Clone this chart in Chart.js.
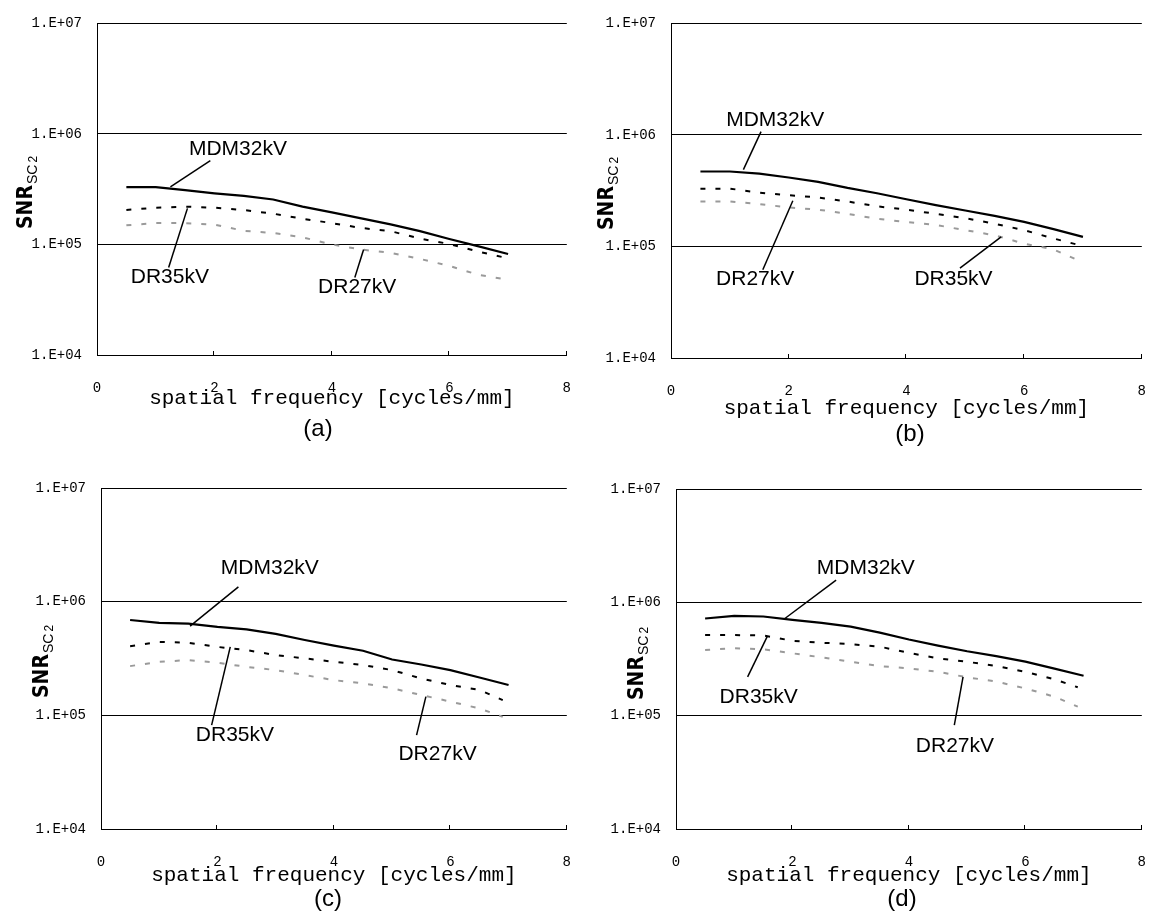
<!DOCTYPE html>
<html>
<head>
<meta charset="utf-8">
<script src="https://cdn.jsdelivr.net/npm/chart.js@4.4.1/dist/chart.umd.min.js"></script>
<style>
html,body{margin:0;padding:0;background:#fff;width:1155px;height:911px;overflow:hidden;}
canvas{position:absolute;}
</style>
</head>
<body>
<script>
// ---------- shared axis data ----------
const freq   = [0.5,1,1.5,2,2.5,3,3.5,4,4.5,5,5.5,6,6.5,7];
const freqDR = [0.5,1,1.5,2,2.5,3,3.5,4,4.5,5,5.5,6,6.5,6.9];
const xTickValues = [0,2,4,6,8];
const xTickLabels = ['0','2','4','6','8'];
const yTickValues = [1e4,1e5,1e6,1e7];
const yTickLabels = ['1.E+04','1.E+05','1.E+06','1.E+07'];
const xTitle = 'spatial frequency [cycles/mm]';
const panelLetters = ['(a)','(b)','(c)','(d)'];
const annTexts = ['MDM32kV','DR35kV','DR27kV'];

// ---------- panel (a) ----------
const mdmA  = [3.3e5,3.3e5,3.1e5,2.9e5,2.75e5,2.55e5,2.2e5,1.95e5,1.72e5,1.52e5,1.32e5,1.12e5,9.6e4,8.2e4];
const dr35A = [2.05e5,2.15e5,2.2e5,2.15e5,2.05e5,1.9e5,1.71e5,1.56e5,1.41e5,1.32e5,1.13e5,1.01e5,8.6e4,7.7e4];
const dr27A = [1.49e5,1.56e5,1.56e5,1.51e5,1.33e5,1.27e5,1.16e5,1.0e5,9.0e4,8.4e4,7.4e4,6.4e4,5.3e4,4.9e4];
const labelPosA  = [[2.40,7.3e5],[1.24,5.03e4],[4.43,4.09e4]];
const leaderFromA = [[1.93,5.74e5],[1.22,6.18e4],[4.39,5.03e4]];
const leaderToA   = [[1.25,3.32e5],[1.54,2.12e5],[4.54,9.0e4]];

// ---------- panel (b) ----------
const mdmB  = [4.7e5,4.7e5,4.5e5,4.15e5,3.8e5,3.35e5,3.0e5,2.65e5,2.35e5,2.1e5,1.88e5,1.66e5,1.43e5,1.22e5];
const dr27B = [3.3e5,3.3e5,3.04e5,2.88e5,2.75e5,2.53e5,2.29e5,2.14e5,1.96e5,1.79e5,1.6e5,1.4e5,1.18e5,1.04e5];
const dr35B = [2.53e5,2.53e5,2.4e5,2.24e5,2.14e5,1.96e5,1.77e5,1.66e5,1.56e5,1.4e5,1.26e5,1.06e5,9.4e4,7.6e4];
const labelPosB  = [[1.77,1.35e6],[4.8,5.05e4],[1.43,5.05e4]];
const leaderFromB = [[1.53,1.07e6],[4.91,6.4e4],[1.56,6.19e4]];
const leaderToB   = [[1.23,4.89e5],[5.61,1.22e5],[2.07,2.57e5]];

// ---------- panel (c) ----------
const mdmC  = [6.9e5,6.5e5,6.4e5,6.0e5,5.7e5,5.2e5,4.6e5,4.1e5,3.7e5,3.1e5,2.8e5,2.5e5,2.15e5,1.85e5];
const dr35C = [4.06e5,4.43e5,4.35e5,4.0e5,3.75e5,3.39e5,3.17e5,2.96e5,2.77e5,2.5e5,2.11e5,1.85e5,1.67e5,1.36e5];
const dr27C = [2.71e5,2.96e5,3.06e5,2.9e5,2.67e5,2.5e5,2.26e5,2.04e5,1.91e5,1.73e5,1.51e5,1.32e5,1.15e5,9.7e4];
const labelPosC  = [[2.90,1.96e6],[2.3,6.7e4],[5.78,4.57e4]];
const leaderFromC = [[2.36,1.35e6],[1.9,8.2e4],[5.42,6.7e4]];
const leaderToC   = [[1.53,6.09e5],[2.22,4.0e5],[5.58,1.46e5]];

// ---------- panel (d) ----------
const mdmD  = [7.2e5,7.6e5,7.5e5,7.0e5,6.6e5,6.1e5,5.4e5,4.7e5,4.15e5,3.7e5,3.35e5,3.0e5,2.6e5,2.25e5];
const dr35D = [5.14e5,5.14e5,5.1e5,4.58e5,4.4e5,4.28e5,4.06e5,3.59e5,3.2e5,2.99e5,2.74e5,2.44e5,2.09e5,1.78e5];
const dr27D = [3.8e5,3.93e5,3.85e5,3.55e5,3.27e5,2.99e5,2.74e5,2.61e5,2.44e5,2.18e5,2.0e5,1.74e5,1.47e5,1.2e5];
const labelPosD  = [[3.26,2.0e6],[1.42,1.47e5],[4.79,5.4e4]];
const leaderFromD = [[2.75,1.57e6],[1.23,2.2e5],[4.78,8.26e4]];
const leaderToD   = [[1.87,7.2e5],[1.57,5.04e5],[4.93,2.2e5]];

// ---------- layout / style (not data) ----------
const MONO = '"Liberation Mono","DejaVu Sans Mono",monospace';
const SANS = '"Liberation Sans",Arial,sans-serif';
const NARROW = '"Liberation Sans Narrow","DejaVu Sans Condensed","Liberation Sans",sans-serif';
const TITLE_LH = 25.2;

const layouts = [
  {left:0,   top:0,   w:588, h:445, plot:{l:97, t:19, r:578, b:355}, hX:60, xTitleY:398, letter:{x:318,y:429}, yTitle:{x:32, y:229}},
  {left:588, top:0,   w:575, h:450, plot:{l:671,t:18, r:1153,b:358}, hX:65, xTitleY:408, letter:{x:910,y:434}, yTitle:{x:613,y:230}},
  {left:0,   top:450, w:588, h:461, plot:{l:101,t:488,r:572, b:829}, hX:60, xTitleY:875, letter:{x:328,y:899}, yTitle:{x:48, y:698}},
  {left:588, top:450, w:575, h:461, plot:{l:676,t:489,r:1150,b:829}, hX:60, xTitleY:875, letter:{x:902,y:899}, yTitle:{x:643,y:700}}
];

// series per panel: [solid black, dashed black, dashed grey]
const panels = [
  {solid:['MDM32kV',mdmA], black:['DR35kV',dr35A], grey:['DR27kV',dr27A], pos:labelPosA, from:leaderFromA, to:leaderToA},
  {solid:['MDM32kV',mdmB], black:['DR27kV',dr27B], grey:['DR35kV',dr35B], pos:labelPosB, from:leaderFromB, to:leaderToB},
  {solid:['MDM32kV',mdmC], black:['DR35kV',dr35C], grey:['DR27kV',dr27C], pos:labelPosC, from:leaderFromC, to:leaderToC},
  {solid:['MDM32kV',mdmD], black:['DR35kV',dr35D], grey:['DR27kV',dr27D], pos:labelPosD, from:leaderFromD, to:leaderToD}
];

function pts(xs, ys){ return ys.map((v,k)=>({x:xs[k], y:v})); }

function build(idx){
  const L = layouts[idx], P = panels[idx];
  const cv = document.createElement('canvas');
  cv.width = L.w; cv.height = L.h;
  cv.style.left = L.left+'px'; cv.style.top = L.top+'px';
  cv.style.width = L.w+'px'; cv.style.height = L.h+'px';
  document.body.appendChild(cv);

  const yW = L.plot.l - L.left;
  const padTop = L.plot.t - L.top;
  const padRight = L.left + L.w - L.plot.r;
  const padBottom = L.h - (L.plot.b - L.top) - L.hX;
  const titlePB = (L.plot.b - L.top + L.hX) - TITLE_LH/2 - (L.xTitleY - L.top);

  const overlay = {
    id:'overlay'+idx,
    afterDatasetsDraw(chart){
      const ctx = chart.ctx, xs = chart.scales.x, ys = chart.scales.y;
      ctx.save();
      ctx.strokeStyle = '#000'; ctx.lineWidth = 1.5;
      for (let k=0;k<P.from.length;k++){
        ctx.beginPath();
        ctx.moveTo(xs.getPixelForValue(P.from[k][0]), ys.getPixelForValue(P.from[k][1]));
        ctx.lineTo(xs.getPixelForValue(P.to[k][0]), ys.getPixelForValue(P.to[k][1]));
        ctx.stroke();
      }
      ctx.fillStyle = '#000';
      ctx.font = '21px '+SANS;
      ctx.textAlign = 'center'; ctx.textBaseline = 'middle';
      for (let k=0;k<P.pos.length;k++){
        ctx.fillText(annTexts[k], xs.getPixelForValue(P.pos[k][0]), ys.getPixelForValue(P.pos[k][1]));
      }
      // inner tick marks on the x axis
      const bottom = chart.chartArea.bottom;
      ctx.lineWidth = 1;
      xTickValues.slice(1).forEach(v=>{
        const px = Math.round(xs.getPixelForValue(v)) - 0.5;
        ctx.beginPath(); ctx.moveTo(px, bottom); ctx.lineTo(px, bottom-4); ctx.stroke();
      });
      // y-axis title SNR_SC 2
      ctx.translate(L.yTitle.x - L.left, L.yTitle.y - L.top);
      ctx.rotate(-Math.PI/2);
      ctx.textAlign = 'left'; ctx.textBaseline = 'alphabetic';
      ctx.font = 'bold 21px '+NARROW;
      ctx.fillText('SNR', 0, 0);
      let w = ctx.measureText('SNR').width + 1;
      ctx.font = '14px '+SANS;
      ctx.fillText('SC', w, 5);
      w += ctx.measureText('SC').width + 2;
      ctx.font = '12px '+SANS;
      ctx.fillText('2', w, 5);
      ctx.restore();
      // panel letter
      ctx.save();
      ctx.fillStyle = '#000';
      ctx.font = '24px '+SANS;
      ctx.textAlign = 'center'; ctx.textBaseline = 'middle';
      ctx.fillText(panelLetters[idx], L.letter.x - L.left, L.letter.y - L.top);
      ctx.restore();
    }
  };

  new Chart(cv, {
    type:'line',
    data:{
      datasets:[
        {label:P.solid[0], data:pts(freq, P.solid[1]), borderColor:'#000', borderWidth:2.2, pointRadius:0, tension:0, fill:false},
        {label:P.black[0], data:pts(freqDR, P.black[1]), borderColor:'#000', borderWidth:2, borderDash:[5,10], pointRadius:0, tension:0, fill:false},
        {label:P.grey[0],  data:pts(freqDR, P.grey[1]),  borderColor:'#9a9a9a', borderWidth:2, borderDash:[5,10], pointRadius:0, tension:0, fill:false}
      ]
    },
    options:{
      responsive:false, animation:false, devicePixelRatio:1,
      layout:{padding:{left:0, top:padTop, right:padRight, bottom:padBottom}},
      plugins:{legend:{display:false}, tooltip:{enabled:false}, title:{display:false}},
      scales:{
        x:{
          type:'linear', min:0, max:8,
          afterFit:s=>{ s.height = L.hX; },
          afterBuildTicks:s=>{ s.ticks = xTickValues.map(v=>({value:v})); },
          ticks:{callback:(v,i)=>xTickLabels[i], padding:17, maxRotation:0, minRotation:0, autoSkip:false, color:'#000', font:{family:MONO, size:14}},
          grid:{display:false},
          border:{display:true, color:'#000', width:1},
          title:{display:true, text:xTitle, color:'#000', font:{family:MONO, size:21, lineHeight:1.2}, padding:{top:0, bottom:titlePB}}
        },
        y:{
          type:'logarithmic', min:1e4, max:1e7,
          afterFit:s=>{ s.width = yW; },
          afterBuildTicks:s=>{ s.ticks = yTickValues.map(v=>({value:v})); },
          ticks:{callback:(v,i)=>yTickLabels[i], padding:15, color:'#000', font:{family:MONO, size:14}},
          grid:{color:'#000', lineWidth:1, drawTicks:false},
          border:{display:true, color:'#000', width:1}
        }
      }
    },
    plugins:[overlay]
  });
}

[0,1,2,3].forEach(build);
</script>
</body>
</html>
